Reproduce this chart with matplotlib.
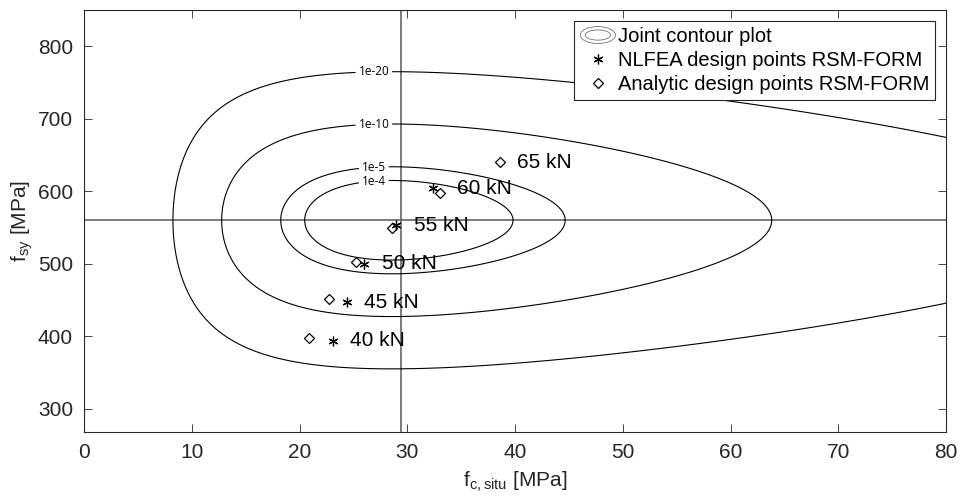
import numpy as np
import matplotlib
matplotlib.use("Agg")
import matplotlib.pyplot as plt
from matplotlib.legend_handler import HandlerBase
from matplotlib.patches import Ellipse
from matplotlib.lines import Line2D

plt.rcParams['font.family'] = ['Liberation Sans', 'DejaVu Sans']

# ---- distribution parameters (joint density) ----
fc_mean = 29.4      # MPa, lognormal
fc_cov = 0.14
fsy_mean = 560.0    # MPa, normal
fsy_std = 23.0
contour_levels = [1e-20, 1e-10, 1e-5, 1e-4]

# ---- design points ----
nlfea_loads = [40, 45, 50, 55, 60]
nlfea_fc = [23.1, 24.4, 26.0, 29.0, 32.4]
nlfea_fsy = [394, 447, 500, 553, 604]

analytic_loads = [40, 45, 50, 55, 60, 65]
analytic_fc = [20.9, 22.7, 25.2, 28.6, 33.0, 38.6]
analytic_fsy = [398, 451, 502, 550, 597, 640]

xticks = [0, 10, 20, 30, 40, 50, 60, 70, 80]
yticks = [300, 400, 500, 600, 700, 800]

FS = 15
gray = '0.15'

fig = plt.figure(figsize=(9.6, 4.98), dpi=100)
ax = fig.add_axes([84/960, 1-432/498, (946-84)/960, (432-10)/498])

# joint density
sig = np.sqrt(np.log(1 + fc_cov**2))
mu = np.log(fc_mean) - sig**2/2

def log_fx(x):
    return -np.log(x) - np.log(sig*np.sqrt(2*np.pi)) - (np.log(x)-mu)**2/(2*sig**2)

def log_fy(y):
    return -np.log(fsy_std*np.sqrt(2*np.pi)) - (y-fsy_mean)**2/(2*fsy_std**2)

xg = np.linspace(0.2, 81, 1400)
yg = np.linspace(260, 860, 1000)
X, Y = np.meshgrid(xg, yg)
Z = (log_fx(X) + log_fy(Y)) / np.log(10)
lev = sorted(np.log10(contour_levels))
cs = ax.contour(X, Y, Z, levels=lev, colors='k', linewidths=0.8,
                linestyles='solid', negative_linestyles='solid')

# label positions on upper branch, just left of the mean
x0 = fc_mean - 2.5
pos = []
for L in lev:
    r = log_fx(x0) + log_fy(fsy_mean) - L*np.log(10)
    pos.append((x0, fsy_mean + fsy_std*np.sqrt(2*r)))
fmt = {L: '1e%d' % round(L) for L in lev}
txts = ax.clabel(cs, lev, fmt=fmt, manual=pos, fontsize=8.5, inline=True, inline_spacing=3)
for t in txts:
    t.set_rotation(0)
    t.set_family(['Open Sans', 'DejaVu Sans'])

# crosshair at mean values
ax.axvline(fc_mean, color='0.35', lw=1.1, zorder=1)
ax.axhline(fsy_mean, color='0.35', lw=1.1, zorder=1)

ax.plot(nlfea_fc, nlfea_fsy, ls='none', marker=(6, 2, 0), ms=7, mew=0.9, color='k')
ax.plot(analytic_fc, analytic_fsy, ls='none', marker='D', ms=5.5, mew=0.9, mfc='none', mec='k')

# load labels
for ld, xa, ya in zip(analytic_loads, analytic_fc, analytic_fsy):
    xs = [xa]
    yl = ya
    if ld in nlfea_loads:
        i = nlfea_loads.index(ld)
        xs.append(nlfea_fc[i])
        yl = nlfea_fsy[i]
    ax.annotate('%d kN' % ld, xy=(max(xs), yl), xytext=(12.5, 0), textcoords='offset points',
                fontsize=FS, va='center', ha='left', color='k')

ax.set_xlim(0, 80)
ax.set_ylim(268, 850)
ax.set_xticks(xticks)
ax.set_yticks(yticks)
ax.tick_params(direction='in', length=6, width=0.6, top=True, right=True,
               labelsize=FS, colors=gray, pad=8)
for s in ax.spines.values():
    s.set_color(gray)
    s.set_linewidth(0.8)
ax.set_xlabel(r'f$_{\mathregular{c,situ}}$ [MPa]', fontsize=FS, color=gray, labelpad=5)
ax.set_ylabel(r'f$_{\mathregular{sy}}$ [MPa]', fontsize=FS, color=gray, labelpad=2)


class HandlerContour(HandlerBase):
    def create_artists(self, legend, orig_handle, xdescent, ydescent, width, height, fontsize, trans):
        cx = -xdescent + width/2
        cy = -ydescent + height/2
        e1 = Ellipse((cx, cy), width*1.0, height*1.2, fill=False, ec='0.45', lw=0.6, transform=trans)
        e2 = Ellipse((cx, cy), width*0.72, height*0.72, fill=False, ec='0.45', lw=0.6, transform=trans)
        return [e1, e2]


class ContourProxy:
    pass


h_cont = ContourProxy()
h_nl = Line2D([], [], ls='none', marker=(6, 2, 0), ms=7, mew=0.9, color='k')
h_an = Line2D([], [], ls='none', marker='D', ms=5.5, mew=0.9, mfc='none', mec='k')
leg = ax.legend([h_cont, h_nl, h_an],
                ['Joint contour plot', 'NLFEA design points RSM-FORM', 'Analytic design points RSM-FORM'],
                handler_map={ContourProxy: HandlerContour()}, loc='upper right',
                fontsize=14.5, frameon=True, fancybox=False, framealpha=1, edgecolor=gray,
                borderaxespad=0.55, borderpad=0.3, labelspacing=0.25, handletextpad=0.1,
                handlelength=1.75)
leg.get_frame().set_linewidth(0.8)

fig.savefig('out.png', dpi=100)
